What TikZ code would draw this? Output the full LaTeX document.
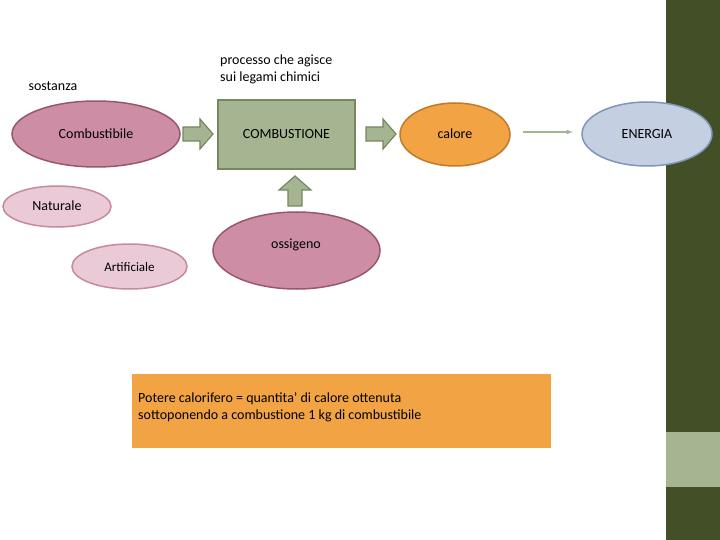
\documentclass[tikz,border=0pt]{standalone}
\usepackage{fontspec}
\setmainfont{Carlito}
\begin{document}
\begin{tikzpicture}[x=1pt,y=-1pt,
  font=\fontsize{14}{17}\selectfont,
  pinkE/.style={ellipse,draw=pinkB,fill=pinkF,line width=1.5pt},
  lpinkE/.style={ellipse,draw=lpinkB,fill=lpinkF,line width=1.5pt},
  barrow/.style={fill=grnF,draw=grnB,line width=1.2pt}]
\definecolor{pinkF}{HTML}{CD8DA4}\definecolor{pinkB}{HTML}{9A5670}
\definecolor{lpinkF}{HTML}{EACAD6}\definecolor{lpinkB}{HTML}{C8899F}
\definecolor{grnF}{HTML}{A5B592}\definecolor{grnB}{HTML}{76885F}
\definecolor{orF}{HTML}{F2A444}\definecolor{orB}{HTML}{C07A2A}
\definecolor{blF}{HTML}{C4D0E1}\definecolor{blB}{HTML}{7D96B9}
\definecolor{dark}{HTML}{434F27}
\useasboundingbox (0,0) rectangle (720,540);
\fill[white] (0,0) rectangle (720,540);
\fill[dark] (666,0) rectangle (720,540);
\fill[grnF] (666,432) rectangle (720,487);
\draw[pinkB,fill=pinkF,line width=1.5pt] (96,134) ellipse [x radius=84,y radius=33];
\node (comb) at (96,134) {Combustibile};
\node[draw=grnB,fill=grnF,line width=1.5pt,minimum width=137,minimum height=69] (cmb) at (286.5,134.5) {COMBUSTIONE};
\draw[orB,fill=orF,line width=1.5pt] (455,134.5) ellipse [x radius=55,y radius=31.5];
\node (cal) at (455,134) {calore};
\draw[blB,fill=blF,line width=1.5pt] (647,134) ellipse [x radius=65,y radius=32];
\node (en) at (647,134) {ENERGIA};
\draw[lpinkB,fill=lpinkF,line width=1.5pt] (57,206.5) ellipse [x radius=54,y radius=20.5];
\node (nat) at (57,206) {Naturale};
\draw[lpinkB,fill=lpinkF,line width=1.5pt] (129.5,266.5) ellipse [x radius=57.5,y radius=22.5];
\node[font=\fontsize{13}{15}\selectfont] (art) at (129.5,267) {Artificiale};
\draw[pinkB,fill=pinkF,line width=1.5pt] (296.5,250.5) ellipse [x radius=83.5,y radius=38.5];
\node (oss) at (296,245) {ossigeno};
% block arrows
\draw[barrow] (183,127)--(200,127)--(200,119)--(213,134)--(200,149)--(200,141)--(183,141)--cycle;
\draw[barrow] (366,127)--(383,127)--(383,119)--(396,134)--(383,149)--(383,141)--(366,141)--cycle;
\draw[barrow] (288,206)--(288,190)--(279,190)--(295,176)--(311,190)--(302,190)--(302,206)--cycle;
\coordinate (a1) at (523,132); \coordinate (a2) at (573,132);
\draw[grnF,line width=1.2pt,-latex] (a1)--(a2);
\node[anchor=west] (sos) at (25,86) {sostanza};
\node[anchor=north west,align=left,inner sep=0pt] (proc) at (220,55) {processo che agisce\\sui legami chimici};
\node[fill=orF,anchor=north west,minimum width=419,minimum height=74,inner sep=0pt] (box) at (132,374) {};
\node[anchor=north west,align=left,inner sep=0pt] (pt) at (138,392) {Potere calorifero = quantita' di calore ottenuta\\sottoponendo a combustione 1 kg di combustibile};
\end{tikzpicture}
\end{document}
